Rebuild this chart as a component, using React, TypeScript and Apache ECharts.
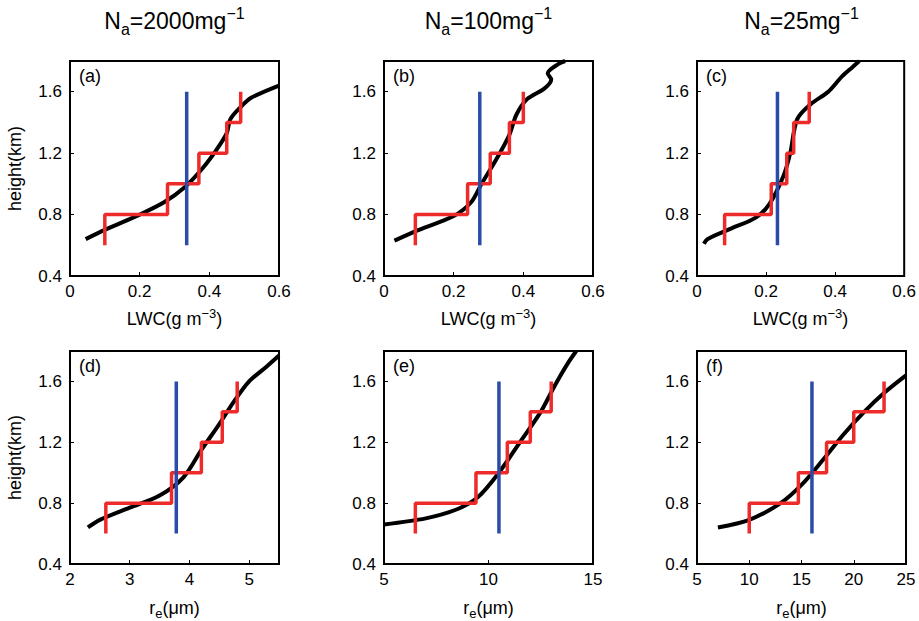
import React, { useEffect, useRef } from 'react';
import * as echarts from 'echarts';

// step levels (km) shared by all panels
const levels = [0.6, 0.8, 1.0, 1.2, 1.4, 1.6];

const titles = ['2000', '100', '25'];
const tags = ['(a)', '(b)', '(c)', '(d)', '(e)', '(f)'];

const blackA = [[0.045, 0.64], [0.1, 0.7], [0.2, 0.8], [0.27, 0.88], [0.33, 0.98], [0.38, 1.1], [0.42, 1.22], [0.45, 1.33], [0.46, 1.42], [0.49, 1.5], [0.52, 1.56], [0.6, 1.64]];
const blackB = [[0.03, 0.63], [0.1, 0.7], [0.2, 0.79], [0.25, 0.88], [0.28, 1.0], [0.32, 1.15], [0.36, 1.32], [0.38, 1.45], [0.41, 1.55], [0.46, 1.62], [0.48, 1.68], [0.47, 1.72], [0.5, 1.78], [0.52, 1.8]];
const blackC = [[0.02, 0.61], [0.03, 0.64], [0.1, 0.71], [0.17, 0.78], [0.21, 0.87], [0.25, 1.05], [0.27, 1.2], [0.29, 1.42], [0.33, 1.52], [0.38, 1.6], [0.42, 1.7], [0.45, 1.76], [0.47, 1.8]];
const blackD = [[2.3, 0.64], [2.5, 0.69], [3, 0.77], [3.5, 0.85], [3.9, 0.97], [4.2, 1.15], [4.5, 1.32], [4.75, 1.47], [5.0, 1.6], [5.3, 1.7], [5.5, 1.77]];
const blackE = [[5, 0.66], [7, 0.7], [8.5, 0.76], [9.5, 0.84], [10.5, 1.0], [11.5, 1.2], [12.5, 1.4], [13.2, 1.58], [13.8, 1.72], [14.2, 1.8]];
const blackF = [[7, 0.64], [10, 0.69], [13, 0.8], [15, 0.92], [17, 1.08], [19, 1.25], [21, 1.4], [23, 1.53], [25, 1.64]];

const redA = [0.1, 0.28, 0.37, 0.45, 0.49];
const redB = [0.09, 0.24, 0.305, 0.36, 0.4];
const redC = [0.08, 0.215, 0.26, 0.28, 0.325];
const redD = [2.6, 3.7, 4.2, 4.55, 4.8];
const redE = [6.5, 9.4, 10.9, 12.0, 13.0];
const redF = [10, 14.7, 17.4, 20, 22.9];

const blueX = [0.335, 0.275, 0.233, 3.78, 10.5, 16];

const xRanges = [
  [0, 0.6, 0.2], [0, 0.6, 0.2], [0, 0.6, 0.2],
  [2, 5.5, 1], [5, 15, 5], [5, 25, 5],
];

const blacks = [blackA, blackB, blackC, blackD, blackE, blackF];
const reds = [redA, redB, redC, redD, redE, redF];

const lefts = [70, 384, 697];
const tops = [61, 351];
const W = 209;
const H = 215;
const font = 'Liberation Sans, Arial, sans-serif';

function steps(xs: number[]) {
  const pts: number[][] = [];
  xs.forEach((x, i) => {
    pts.push([x, levels[i]]);
    pts.push([x, levels[i + 1]]);
  });
  return pts;
}

const App: React.FC = () => {
  const ref = useRef<HTMLDivElement>(null);

  useEffect(() => {
    if (!ref.current) return;
    const chart = echarts.init(ref.current, null, { renderer: 'svg' });
    const grid: any[] = [];
    const xAxis: any[] = [];
    const yAxis: any[] = [];
    const series: any[] = [];
    const graphic: any[] = [];
    for (let i = 0; i < 6; i++) {
      const col = i % 3;
      const row = Math.floor(i / 3);
      grid.push({ left: lefts[col], top: tops[row], width: W, height: H, show: true, borderColor: '#000', borderWidth: 2, backgroundColor: '#fff' });
      const [mn, mx, iv] = xRanges[i];
      xAxis.push({
        type: 'value', gridIndex: i, min: mn, max: mx, interval: iv,
        axisLine: { show: false }, splitLine: { show: false },
        axisTick: { inside: true, length: 4, lineStyle: { color: '#000' } },
        axisLabel: { color: '#000', fontSize: 17, fontFamily: font, margin: 7, showMaxLabel: i !== 3 },
        name: row === 0 ? '{n|LWC(g m}{s|−3}{n|)}' : '{n|r}{b|e}{n|(μm)}',
        nameLocation: 'middle', nameGap: 31,
        nameTextStyle: {
          rich: {
            n: { fontSize: 18, fontFamily: font, color: '#000' },
            s: { fontSize: 13, fontFamily: font, color: '#000', verticalAlign: 'top', padding: [0, 0, 10, 0] },
            b: { fontSize: 13, fontFamily: font, color: '#000', padding: [12, 0, 0, 0] },
          },
        },
      });
      yAxis.push({
        type: 'value', gridIndex: i, min: 0.4, max: 1.8, interval: 0.4,
        axisLine: { show: false }, splitLine: { show: false },
        axisTick: { inside: true, length: 4, lineStyle: { color: '#000' } },
        axisLabel: { color: '#000', fontSize: 17, fontFamily: font, formatter: (v: number) => v.toFixed(1), showMaxLabel: false },
        name: col === 0 ? 'height(km)' : '', nameLocation: 'middle', nameGap: 46,
        nameTextStyle: { fontSize: 18, fontFamily: font, color: '#000' },
      });
      series.push({ type: 'line', xAxisIndex: i, yAxisIndex: i, data: blacks[i], smooth: 0.3, symbol: 'none', lineStyle: { color: '#000', width: 4 } });
      series.push({ type: 'line', xAxisIndex: i, yAxisIndex: i, data: steps(reds[i]), symbol: 'none', lineStyle: { color: '#ee2b2b', width: 3.5 } });
      series.push({ type: 'line', xAxisIndex: i, yAxisIndex: i, data: [[blueX[i], 0.6], [blueX[i], 1.6]], symbol: 'none', lineStyle: { color: '#2b4ba8', width: 3.5 } });
      graphic.push({ type: 'text', left: lefts[col] + 9, top: tops[row] + 6, style: { text: tags[i], fontSize: 18, fontFamily: font, fill: '#000' } });
    }
    titles.forEach((t, c) => {
      graphic.push({
        type: 'text', x: lefts[c] + W / 2, y: 4,
        style: {
          text: `{n|N}{b|a}{n|=${t}mg}{s|−1}`, align: 'center', fontFamily: font,
          rich: {
            n: { fontSize: 23, fontFamily: font, fill: '#000' },
            b: { fontSize: 16, fontFamily: font, fill: '#000', padding: [17, 0, 0, 0] },
            s: { fontSize: 16, fontFamily: font, fill: '#000', padding: [0, 0, 14, 0] },
          },
        },
      });
    });
    chart.setOption({ animation: false, backgroundColor: '#fff', grid, xAxis, yAxis, series, graphic });
    return () => { chart.dispose(); };
  }, []);

  return <div ref={ref} style={{ position: 'fixed', left: 0, top: 0, width: 919, height: 621 }} />;
};

export default App;
